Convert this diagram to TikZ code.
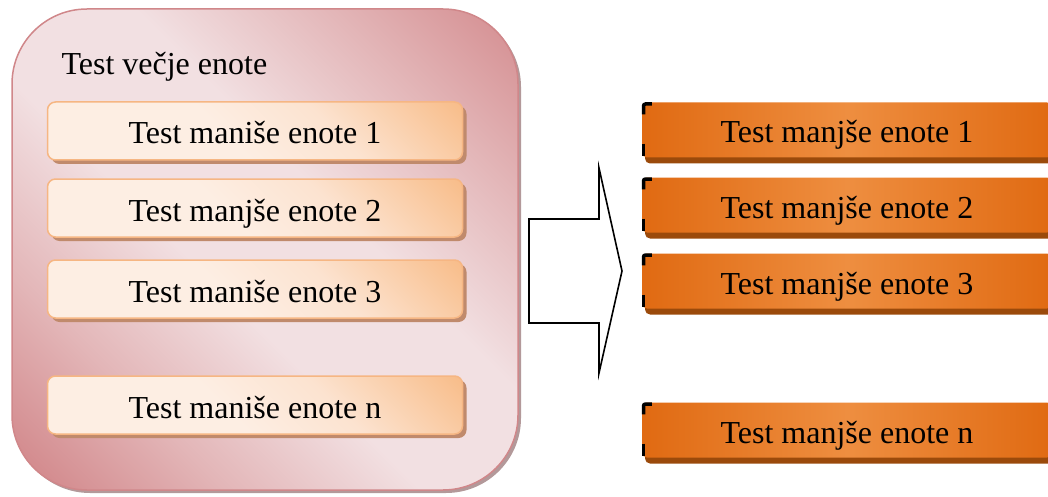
\documentclass[tikz,border=0pt]{standalone}
\usepackage{fontspec}
\setmainfont{Liberation Serif}
\usetikzlibrary{shadows}
\newcommand\boxfont{\fontsize{32}{37}\selectfont}
\definecolor{pinkdark}{HTML}{D48D90}
\definecolor{pinkmid}{HTML}{E3B6B8}
\definecolor{pinklight}{HTML}{F2E0E2}
\definecolor{pinkedge}{HTML}{D0878A}
\definecolor{pinkshadow}{HTML}{B3999A}
\definecolor{peach}{HTML}{F8BD8A}
\definecolor{peachmid}{HTML}{FCE3D0}
\definecolor{peachlight}{HTML}{FDEEE3}
\definecolor{peachedge}{HTML}{F6B683}
\definecolor{peachshadow}{HTML}{C08A6C}
\definecolor{orangebase}{HTML}{E06A12}
\definecolor{orangelight}{HTML}{EE8E40}
\definecolor{orangeshadow}{HTML}{9B4A0B}
% diagonal band shadings (the path box covers roughly 15bp..85bp)
\pgfdeclareverticalshading{pinkband}{100bp}{color(0bp)=(pinkdark); color(18bp)=(pinkdark);
  color(30bp)=(pinkmid); color(44bp)=(pinklight); color(58bp)=(pinklight);
  color(72bp)=(pinkmid); color(85bp)=(pinkdark); color(100bp)=(pinkdark)}
\pgfdeclareverticalshading{peachband}{100bp}{color(0bp)=(peachlight); color(45bp)=(peachlight);
  color(62bp)=(peachmid); color(85bp)=(peach); color(100bp)=(peach)}
\tikzset{
  outerbox/.style={rounded corners=75pt, draw=pinkedge, line width=1.5pt,
    shading=pinkband, shading angle=-45, minimum width=506pt, minimum height=481pt, inner sep=0pt,
    general shadow={fill=pinkshadow, shadow xshift=3pt, shadow yshift=-3pt}},
  unitbox/.style={rounded corners=8pt, draw=peachedge, line width=1.5pt,
    shading=peachband, shading angle=-45,
    minimum width=415pt, minimum height=58pt, inner sep=0pt, font=\boxfont,
    text height=26pt, text depth=0pt,
    general shadow={fill=peachshadow, shadow xshift=4pt, shadow yshift=-4pt}},
  testbox/.style={rounded corners=5pt, left color=orangebase, right color=orangebase,
    middle color=orangelight, minimum width=410pt, minimum height=55pt, inner sep=0pt,
    font=\boxfont, text height=26pt, text depth=0pt,
    general shadow={fill=orangeshadow, shadow xshift=3pt, shadow yshift=-6pt}},
  cornermark/.style={draw=black, line width=3.5pt, rounded corners=2pt},
  blockarrow/.style={draw=black, line width=1.6pt, fill=white, line join=miter}
}
\begin{document}
\begin{tikzpicture}[x=1pt, y=-1pt]
  \clip (0,0) rectangle (1048,497);
  \fill[white] (0,0) rectangle (1048,497);

  % larger unit with its smaller units
  \node[outerbox] (big) at (265,249.5) {};
  \node[anchor=base west, font=\boxfont] (bigtitle) at (58,75) {Test večje enote};
  \node[unitbox] (l1) at (255,131) {Test maniše enote 1};
  \node[unitbox] (l2) at (255,208) {Test manjše enote 2};
  \node[unitbox] (l3) at (255,289) {Test maniše enote 3};
  \node[unitbox] (ln) at (255,405) {Test maniše enote n};

  % block arrow
  \draw[blockarrow] (529,219) -- (599,219) -- (599,168) -- (622,271)
    -- (599,373) -- (599,323) -- (529,323) -- cycle;

  % separate tests of the smaller units
  \node[testbox] (r1) at (847,130) {Test manjše enote 1};
  \node[testbox] (r2) at (847,205) {Test manjše enote 2};
  \node[testbox] (r3) at (847,281) {Test manjše enote 3};
  \node[testbox] (rn) at (847,430) {Test manjše enote n};

  \foreach \n in {r1,r2,r3,rn} {
    \draw[cornermark] ([xshift=1.7pt,yshift=-12pt]\n.north west)
      |- ([xshift=10pt,yshift=-1.7pt]\n.north west);
    \draw[cornermark] ([xshift=1.7pt,yshift=14pt]\n.south west)
      -- ([xshift=1.7pt,yshift=2pt]\n.south west);
  }
\end{tikzpicture}
\end{document}
